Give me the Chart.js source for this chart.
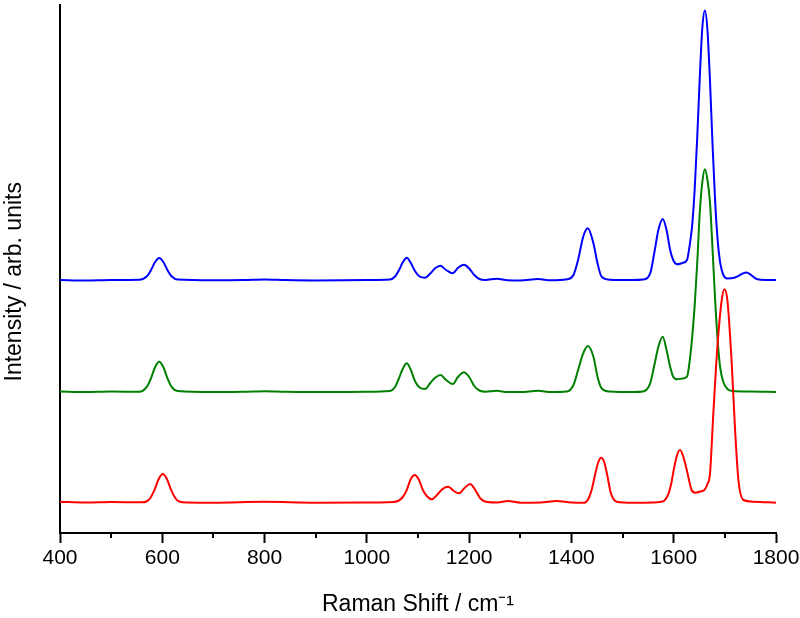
<!DOCTYPE html>
<html>
<head>
<meta charset="utf-8">
<script src="https://cdn.jsdelivr.net/npm/chart.js@4.4.1/dist/chart.umd.min.js"></script>
<style>
  html, body { margin: 0; padding: 0; background: #fff; }
  #wrap { width: 800px; height: 618px; }
</style>
</head>
<body>
<div id="wrap"><canvas id="spectra"></canvas></div>
<script>
// Raman shift (cm-1) and intensity (arb. units, offset per trace)
const blueShift = [400,450,500,555,570,578,586,594,602,610,618,630,700,760,800,840,900,1000,1045,1055,
  1063,1070,1078,1086,1094,1103,1114,1124,1134,1144,1155,1168,1178,1190,1200,1210,1220,1232,1254,1275,
  1300,1335,1360,1391,1404,1413,1423,1432,1443,1451,1459,1475,1520,1540,1554,1563,1570,1578.5,1586,1593,
  1599,1607,1617,1626,1631,1636,1641,1646,1651,1656,1661,1666,1671,1676,1681,1686,1691,1697,1705,1720,
  1742,1762,1780,1800];
const blueIntensity = [253,252.5,253,253.2,256.7,263,271,275,271,263,256.7,253.5,252.7,253,253.6,253,252.6,253,253.5,256.5,
  263,270.5,275.3,270,262,256.5,255.3,259.5,265,267.3,263,259.7,265,268.3,264.5,258,254,253,254.3,252.8,
  252.6,254,252.7,253.7,258,273,296.3,304.7,289.7,269.7,256.3,253.3,253,253.5,259.7,283,303,314,303,283,
  273,268.7,270,273,287,307,343.6,395.7,456,505.6,522.5,502.6,451,387.7,331.6,292.3,269.8,258,254.5,255.5,
  260.5,254,253,253];

const greenShift = [400,450,500,555,570,578,586,594,602,610,618,630,700,760,800,840,900,1000,1045,1055,
  1063,1070,1078,1086,1094,1103,1114,1124,1134,1144,1155,1168,1178,1190,1200,1210,1220,1232,1254,1275,
  1300,1335,1360,1391,1404,1413,1423,1432,1443,1451,1459,1475,1520,1540,1554,1563,1570,1578.5,1586,1593,
  1599,1607,1617,1626,1631,1636,1641,1646,1651,1656,1661,1666,1671,1676,1681,1686,1691,1697,1705,1715,
  1750,1800];
const greenIntensity = [141.5,141,141.5,141.2,146.3,154.8,166,171.3,166,154.8,146.3,142,141,141.2,141.8,141.2,141,141.2,142,146,
  155,164,169.7,163,152,145.5,144,150,155.5,158,153,149,156,160.7,156,147,142.5,141.3,142.2,141,
  141,142.2,141,141.5,148,163,179.6,187,176.3,156.3,144.7,141.5,141,141.5,149.7,170,186.3,196.3,183,166.3,
  156.3,153.7,154.5,156.3,171,195.3,227.6,270.3,321,351.2,363.7,353,330,283,233,192,165,151,144,142,
  141.5,141];

const redShift = [400,450,500,560,569,577,585,593,601,609,617,625,633,650,700,800,900,1000,1050,1061,
  1069.5,1077.5,1085.5,1093.5,1101.5,1109.5,1118,1127,1137,1148,1159,1170,1180,1191,1202,1212,1222,1235,1255,1276,
  1300,1340,1371,1400,1425,1433,1440,1447,1453,1458,1464,1470,1477,1488.5,1520,1560,1573,1582,1590,1595,1600,1606,
  1612.4,1619,1625.5,1635,1642,1652,1661,1666,1671,1677.5,1685.4,1693.9,1699,1704.9,1713.4,1720,1726.5,1736.3,1756,1800];
const redIntensity = [31.3,30.5,31,30.7,31.5,35.3,43.3,54,59,54,43.3,35.3,31.5,30.5,30.3,31.2,30.3,30.5,31,32,
  35.5,42.4,53.5,58,53.5,43,36.5,33.7,38,44,46.3,42,39.7,45,49,43,34.5,31,30.5,32,
  30.3,30.5,32,30.5,30.3,34,44,60,71.5,75.3,71,58,40,31.3,30.3,30.5,31,32.5,39.7,49,63,77,
  83,76,63,43,40.3,41.5,43.7,49,59.7,120,186.3,233,243.7,233,170,103,53,33,31.3,30.3];

const xMin = 400, xMax = 1800, xStep = 200;
const minorTicks = [500, 700, 900, 1100, 1300, 1500, 1700];

const toPoints = (xs, ys) => xs.map((x, i) => ({ x: x, y: ys[i] }));

const minorTickPlugin = {
    id: 'minorTicks',
    afterDraw(chart) {
        const xs = chart.scales.x;
        const ctx = chart.ctx;
        ctx.save();
        ctx.strokeStyle = '#000';
        ctx.lineWidth = 2;
        minorTicks.forEach(v => {
            const px = Math.round(xs.getPixelForValue(v));
            ctx.beginPath();
            ctx.moveTo(px, xs.top);
            ctx.lineTo(px, xs.top + 5);
            ctx.stroke();
        });
        ctx.restore();
    }
};

const lineSet = (data, color, order) => ({
    data: data,
    borderColor: color,
    borderWidth: 2,
    pointRadius: 0,
    fill: false,
    cubicInterpolationMode: 'monotone',
    order: order
});

const font = (size) => ({ family: "'Liberation Sans', Arial, sans-serif", size: size });

new Chart(document.getElementById('spectra'), {
    type: 'line',
    data: {
        datasets: [
            lineSet(toPoints(blueShift, blueIntensity), '#0000ff', 3),
            lineSet(toPoints(greenShift, greenIntensity), '#008000', 2),
            lineSet(toPoints(redShift, redIntensity), '#ff0000', 1)
        ]
    },
    options: {
        responsive: true,
        maintainAspectRatio: false,
        animation: false,
        layout: { padding: { top: 5, right: 24, left: 0, bottom: 0 } },
        plugins: { legend: { display: false }, tooltip: { enabled: false } },
        scales: {
            x: {
                type: 'linear',
                min: xMin,
                max: xMax,
                afterFit: (axis) => { axis.height = 85; axis.paddingRight = 0; axis.paddingLeft = 0; },
                grid: { display: true, drawOnChartArea: false, drawTicks: true, tickLength: 10, tickWidth: 2, tickColor: '#000' },
                border: { display: true, color: '#000', width: 2 },
                ticks: {
                    stepSize: xStep,
                    color: '#000',
                    padding: 3,
                    maxRotation: 0,
                    callback: (v) => String(v),
                    font: font(21)
                },
                title: {
                    display: true,
                    text: 'Raman Shift / cm\u207B\u00B9',
                    color: '#000',
                    padding: { top: 6, bottom: 0 },
                    font: font(23)
                }
            },
            y: {
                type: 'linear',
                min: 0,
                max: 528,
                afterFit: (axis) => { axis.width = 60; },
                grid: { display: false },
                border: { display: true, color: '#000', width: 2 },
                ticks: { display: false },
                title: {
                    display: true,
                    // trailing spaces push the label a little below the axis centre, as in the original
                    text: 'Intensity / arb. units    ',
                    color: '#000',
                    padding: { top: 1, bottom: 0 },
                    font: font(23)
                }
            }
        }
    },
    plugins: [minorTickPlugin]
});
</script>
</body>
</html>
